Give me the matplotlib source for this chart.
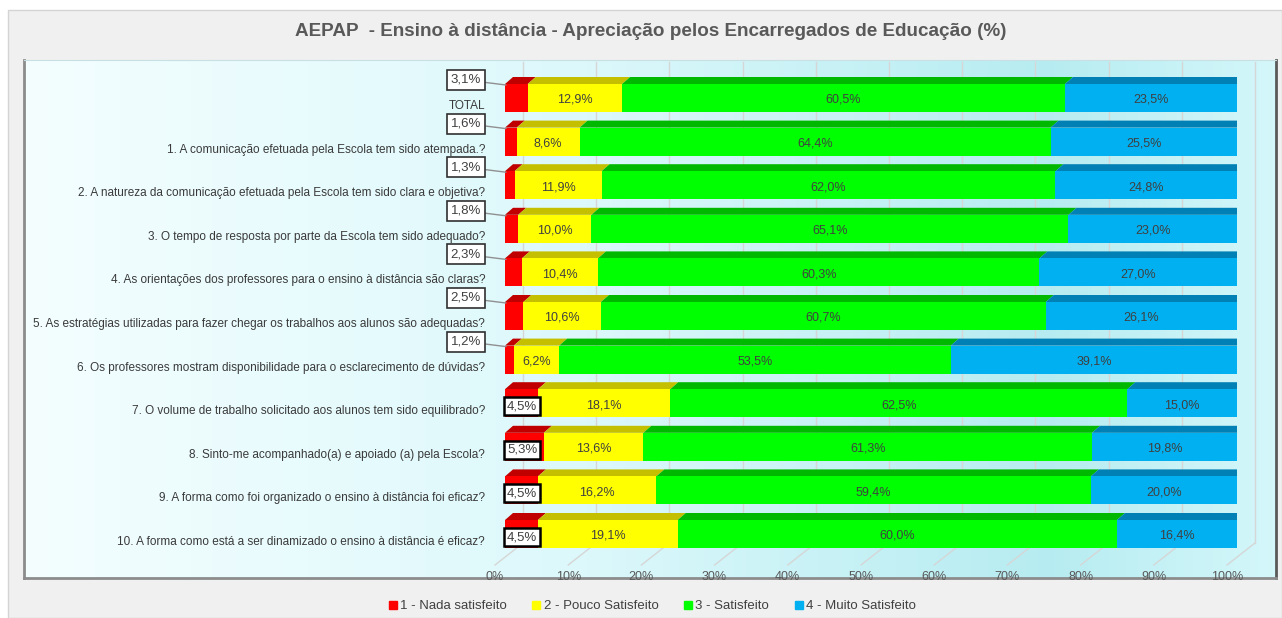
import matplotlib
matplotlib.use("Agg")
import matplotlib.pyplot as plt
import numpy as np
from matplotlib.patches import Polygon, Rectangle
from matplotlib.lines import Line2D

plt.rcParams['font.family'] = ['Liberation Sans', 'DejaVu Sans']

# Data
questions = [
    "TOTAL",
    "1. A comunicação efetuada pela Escola tem sido atempada.?",
    "2. A natureza da comunicação efetuada pela Escola tem sido clara e objetiva?",
    "3. O tempo de resposta por parte da Escola tem sido adequado?",
    "4. As orientações dos professores para o ensino à distância são claras?",
    "5. As estratégias utilizadas para fazer chegar os trabalhos aos alunos são adequadas?",
    "6. Os professores mostram disponibilidade para o esclarecimento de dúvidas?",
    "7. O volume de trabalho solicitado aos alunos tem sido equilibrado?",
    "8. Sinto-me acompanhado(a) e apoiado (a) pela Escola?",
    "9. A forma como foi organizado o ensino à distância foi eficaz?",
    "10. A forma como está a ser dinamizado o ensino à distância é eficaz?",
]
nada = [3.1, 1.6, 1.3, 1.8, 2.3, 2.5, 1.2, 4.5, 5.3, 4.5, 4.5]
pouco = [12.9, 8.6, 11.9, 10.0, 10.4, 10.6, 6.2, 18.1, 13.6, 16.2, 19.1]
satisfeito = [60.5, 64.4, 62.0, 65.1, 60.3, 60.7, 53.5, 62.5, 61.3, 59.4, 60.0]
muito = [23.5, 25.5, 24.8, 23.0, 27.0, 26.1, 39.1, 15.0, 19.8, 20.0, 16.4]
series_names = ["1 - Nada satisfeito", "2 - Pouco Satisfeito", "3 - Satisfeito", "4 - Muito Satisfeito"]
x_ticks = [0, 10, 20, 30, 40, 50, 60, 70, 80, 90, 100]

front_colors = ['#ff0000', '#ffff00', '#00ff00', '#00b0f0']
top_colors = ['#c00000', '#c4c000', '#00b800', '#0080b4']
side_color = '#006a92'
text_color = '#404040'

W, H = 1282, 618
fig = plt.figure(figsize=(W / 100, H / 100), dpi=100, facecolor='white')

def fx(px):
    return px / W

def fy(py):
    return 1 - py / H

# outer frame
fig.patches.append(Rectangle((fx(8), 0), fx(1282 - 8), fy(10), transform=fig.transFigure,
                             facecolor='#f0f0f0', edgecolor='#d4d4d4', lw=1, zorder=-10))

# plot area with gradient
bg = fig.add_axes([fx(24), fy(578), fx(1276 - 24), (578 - 60) / H])
grad_stops = [(0.0, '#f4feff'), (0.45, '#dcf8fb'), (0.82, '#b6ecf1'), (1.0, '#d4f7fa')]
xs = np.linspace(0, 1, 300)
rgb = np.array([matplotlib.colors.to_rgb(c) for _, c in grad_stops])
pos = [p for p, _ in grad_stops]
img = np.stack([np.interp(xs, pos, rgb[:, k]) for k in range(3)], axis=-1)[None, :, :]
bg.imshow(img, aspect='auto', extent=[0, 1, 0, 1])
bg.set_xticks([])
bg.set_yticks([])
for s in ['left', 'bottom']:
    bg.spines[s].set_color('#8c8c8c')
    bg.spines[s].set_linewidth(2)
bg.spines['right'].set_color('#5a5a5a')
bg.spines['right'].set_linewidth(2)
bg.spines['top'].set_color('#c8e0e4')

# main axes: 0% at bar front-left, 100% at bar front-right
left_px, right_px, top_px, bottom_px = 505, 1237, 62, 565
row0_px, row_step = 98, 43.6
ax = fig.add_axes([fx(left_px), fy(bottom_px), fx(right_px - left_px), (bottom_px - top_px) / H])
ax.patch.set_alpha(0)
ax.set_xlim(0, 100)
ylo = (bottom_px - row0_px) / row_step
yhi = (top_px - row0_px) / row_step
ax.set_ylim(ylo, yhi)
ax.axis('off')

px_x = (right_px - left_px) / 100.0
px_y = row_step

# 3D wall and floor gridlines
wall_dx = 18 / px_x
floor_fx = -10 / px_x
floor_dy = 22 / px_y
for v in x_ticks:
    ax.plot([v + floor_fx, v + wall_dx], [ylo, ylo - floor_dy], color='#d6d6d6', lw=1, zorder=1, clip_on=False)
    ax.plot([v + wall_dx, v + wall_dx], [ylo - floor_dy, yhi], color='#d6d6d6', lw=1, zorder=1, clip_on=False)
    ax.text(v + floor_fx, ylo + 12 / px_y, f"{v}%", ha='center', va='center', fontsize=9,
            color='#595959', clip_on=False)

# bars
data = np.array([nada, pouco, satisfeito, muito])
data = data / data.sum(axis=0) * 100
bar_h = 28 / px_y
ddx = 8 / px_x
ddy = 7 / px_y
raw = [nada, pouco, satisfeito, muito]

for i, q in enumerate(questions):
    left = 0.0
    yt = i - bar_h / 2
    yb = i + bar_h / 2
    for k in range(4):
        w = data[k, i]
        ax.barh(i, w, left=left, height=bar_h, color=front_colors[k], lw=0, zorder=3)
        ax.add_patch(Polygon([(left, yt), (left + w, yt), (left + w + ddx, yt - ddy), (left + ddx, yt - ddy)],
                             closed=True, facecolor=top_colors[k], lw=0, zorder=2))
        if k == 3:
            ax.add_patch(Polygon([(left + w, yt), (left + w + ddx, yt - ddy), (left + w + ddx, yb - ddy), (left + w, yb)],
                                 closed=True, facecolor=side_color, lw=0, zorder=3))
        label = f"{raw[k][i]:.1f}".replace('.', ',') + '%'
        if k == 0:
            if raw[k][i] >= 4:
                ax.text(left + 2 / px_x, i + 3 / px_y, label, ha='left', va='center', fontsize=9.5, color=text_color,
                        zorder=6, bbox=dict(boxstyle='square,pad=0.22', facecolor='white', edgecolor='black', lw=1.8))
            else:
                ax.annotate(label, xy=(left + 1 / px_x, yt + 1 / px_y), xytext=(-25, 5), textcoords='offset pixels',
                            ha='right', va='center', fontsize=9.5, color=text_color, zorder=6,
                            bbox=dict(boxstyle='square,pad=0.3', facecolor='white', edgecolor='#303030', lw=1.2),
                            arrowprops=dict(arrowstyle='-', color='#909090', lw=1, shrinkA=0, shrinkB=0))
        else:
            ax.text(left + w / 2, i + 2 / px_y, label, ha='center', va='center', fontsize=9, color=text_color, zorder=5)
        left += w
    ax.text(-20 / px_x, i + 8 / px_y, q, ha='right', va='center', fontsize=8.5, color='#3a3a3a',
            clip_on=False)

# title
fig.text(fx(651), fy(32), "AEPAP  - Ensino à distância - Apreciação pelos Encarregados de Educação (%)",
         ha='center', va='center', fontsize=13.6, fontweight='bold', color='#595959')

# legend
handles = [Line2D([], [], marker='s', linestyle='none', markersize=6, color=c) for c in front_colors]
fig.legend(handles, series_names, loc='center', bbox_to_anchor=(fx(652), fy(606)), ncol=4, frameon=False,
           fontsize=9.5, handlelength=0.7, handletextpad=0.2, columnspacing=1.9, labelcolor=text_color)

fig.savefig("out.png", dpi=100, facecolor=fig.get_facecolor())
